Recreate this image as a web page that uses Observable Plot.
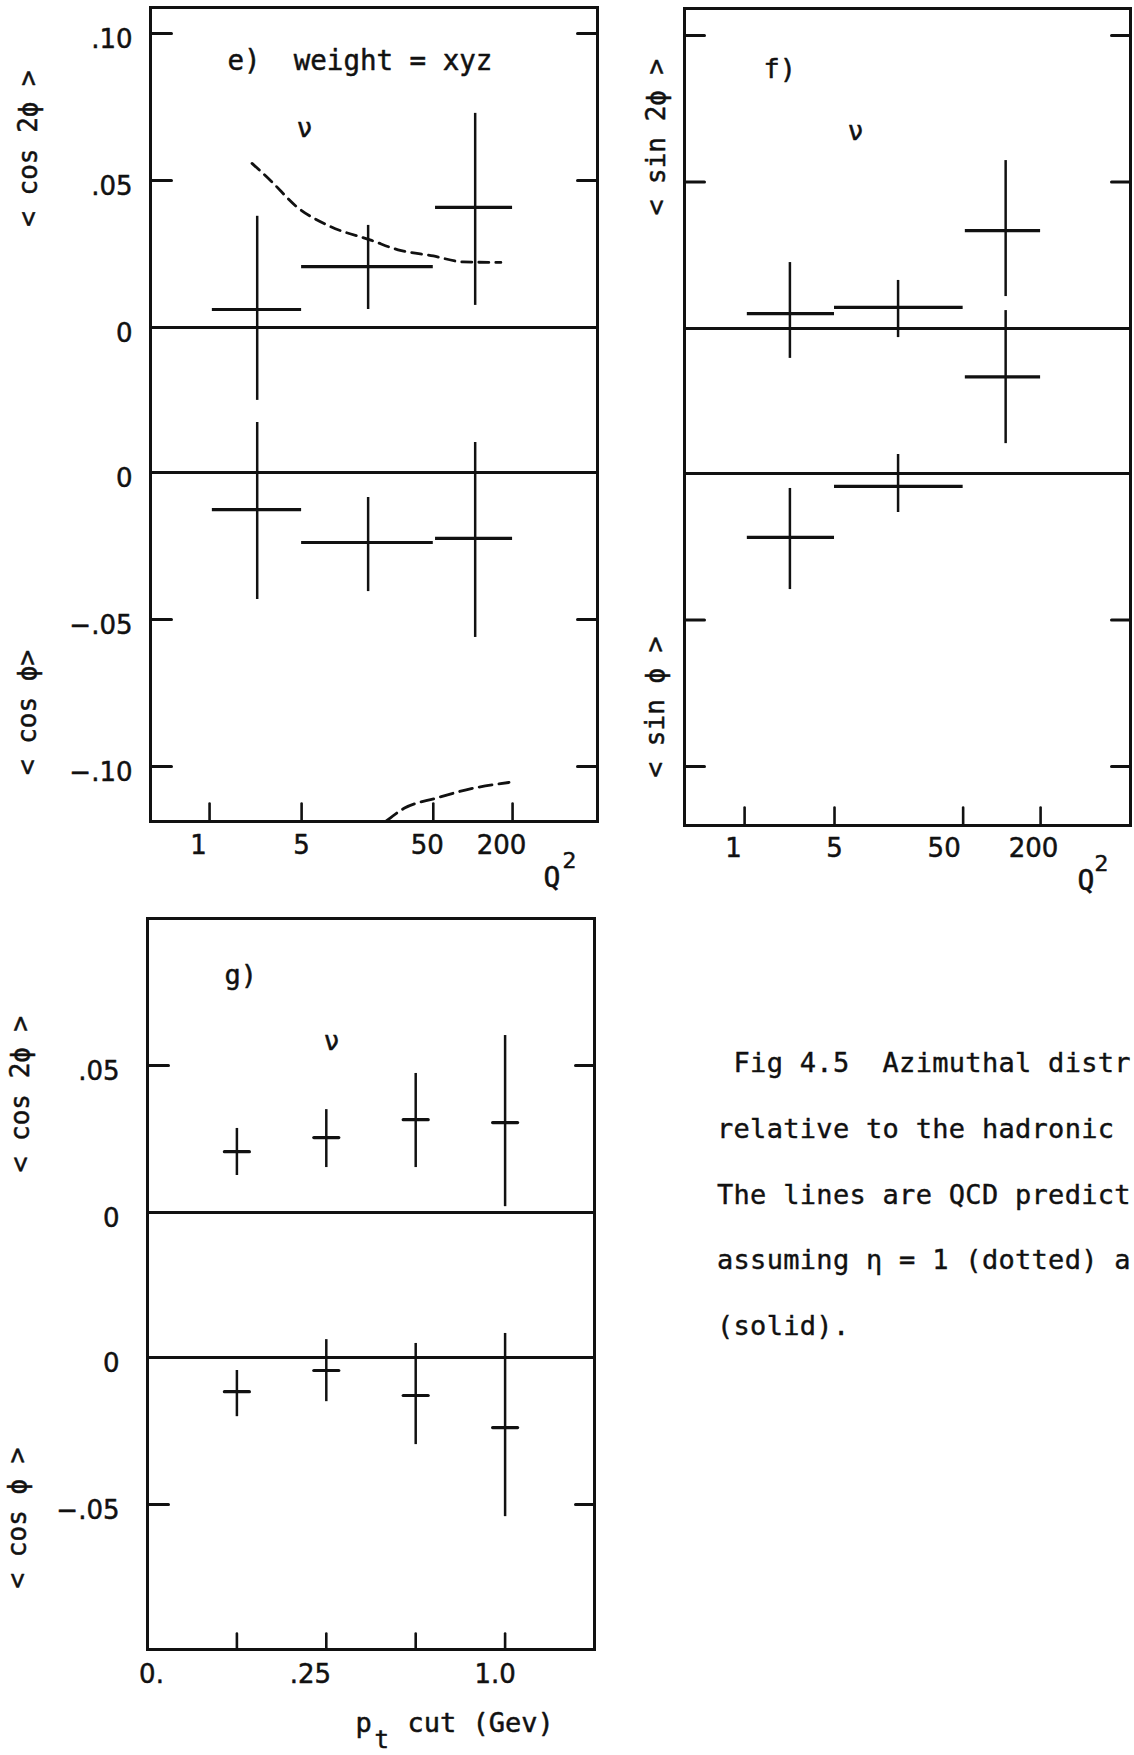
<!DOCTYPE html>
<html><head><meta charset="utf-8">
<script src="https://cdn.jsdelivr.net/npm/d3@7"></script>
<script src="https://cdn.jsdelivr.net/npm/@observablehq/plot@0.6"></script>
<style>
html,body{margin:0;padding:0;background:#fff;}
body{width:1134px;height:1755px;position:relative;overflow:hidden;}
.panel{position:absolute;}
.panel svg{overflow:visible;}
.panel svg text{paint-order:stroke;}
#caption{position:absolute;left:717px;top:1030px;font-family:'DejaVu Sans Mono',monospace;font-size:27px;letter-spacing:0.3px;line-height:65.75px;white-space:pre;color:#111;-webkit-text-stroke:0.4px #111;}
</style></head><body>
<div id="pe" class="panel" style="left:0;top:0"></div>
<div id="pf" class="panel" style="left:615px;top:0"></div>
<div id="pg" class="panel" style="left:0;top:900px"></div>
<div id="caption"></div>
<script>
// ---------- data ----------
// Q^2 bins (panels e, f)
const q2BinLow  = [1.05, 5.0, 52];
const q2BinHigh = [5.0, 50, 200];
const q2TickValues = [1, 5, 50, 200];
const q2TickLabels = ["1", "5", "50", "200"];

// e) <cos 2phi>
const eQ2 = [2.3, 16, 104];
const eCos2Phi   = [0.0061, 0.0207, 0.0408];
const eCos2PhiLo = [-0.0248, 0.0061, 0.0075];
const eCos2PhiHi = [0.0378, 0.0347, 0.0728];
// e) <cos phi>
const eCosPhi   = [-0.0126, -0.0238, -0.0224];
const eCosPhiLo = [-0.0432, -0.0405, -0.0561];
const eCosPhiHi = [0.0170, -0.0085, 0.0102];
// e) QCD predictions (dashed)
const qcdCos2PhiQ2 = [2.1, 2.9, 4.6, 8.2, 17, 27, 50, 84, 163];
const qcdCos2Phi   = [0.0558, 0.0500, 0.0410, 0.0344, 0.0296, 0.0264, 0.0243, 0.0223, 0.0221];
const qcdCosPhiQ2 = [22, 30, 52, 102, 188];
const qcdCosPhi   = [-0.1185, -0.1142, -0.1108, -0.1073, -0.1054];

// f) <sin 2phi>
const fQ2 = [2.25, 15.6, 107];
const fSin2Phi   = [0.0051, 0.0072, 0.0334];
const fSin2PhiLo = [-0.0102, -0.0031, 0.0109];
const fSin2PhiHi = [0.0225, 0.0164, 0.0573];
// f) <sin phi>
const fSinPhi   = [-0.0218, -0.0044, 0.0330];
const fSinPhiLo = [-0.0396, -0.0133, 0.0102];
const fSinPhiHi = [-0.0051, 0.0065, 0.0556];

// g) p_t cut
const ptCutIndex = [1, 2, 3, 4];
const ptTickIndex = [0, 2, 4];
const ptTickLabels = ["0.", ".25", "1.0"];
const gCos2Phi   = [0.0207, 0.0255, 0.0316, 0.0306];
const gCos2PhiLo = [0.0126, 0.0153, 0.0153, 0.0020];
const gCos2PhiHi = [0.0286, 0.0350, 0.0473, 0.0602];
const gCosPhi   = [-0.0116, -0.0044, -0.0129, -0.0238];
const gCosPhiLo = [-0.0201, -0.0150, -0.0296, -0.0541];
const gCosPhiHi = [-0.0044, 0.0061, 0.0048, 0.0082];

const captionLines = [
  " Fig 4.5  Azimuthal distr",
  "relative to the hadronic",
  "The lines are QCD predict",
  "assuming \u03b7 = 1 (dotted) a",
  "(solid)."
];

// ---------- styling ----------
const INK = "#111";
const MONO = "'DejaVu Sans Mono', monospace";
const NUM = "'DejaVu Sans', sans-serif";
const TS = {stroke: INK, strokeWidth: 0.5};
const lineShape = {draw(ctx, l) { ctx.moveTo(0, 0); ctx.lineTo(0, -l); }};

// lower half of each panel is drawn below the upper one, shifted by the gap between zero lines
function rows(xs, v, lo, hi, shift, x1s, x2s) {
  return xs.map((x, i) => ({
    x, y: v[i] - shift, y1: lo[i] - shift, y2: hi[i] - shift,
    x1: x1s ? x1s[i] : null, x2: x2s ? x2s[i] : null
  }));
}
function curve(xs, ys, shift) { return xs.map((x, i) => ({x, y: ys[i] - shift})); }
function txt(t, o) { return Plot.text([t], {text: d => d, fill: INK, ...TS, ...o}); }
function ticksLeftRight(vals, lenL, lenR) {
  return [
    Plot.vector(vals, {y: d => d, frameAnchor: "left", rotate: 90, length: lenL, anchor: "start", shape: lineShape, stroke: INK, strokeWidth: 3}),
    Plot.vector(vals, {y: d => d, frameAnchor: "right", rotate: -90, length: lenR, anchor: "start", shape: lineShape, stroke: INK, strokeWidth: 3})
  ];
}
function ticksBottom(vals, len) {
  return Plot.vector(vals, {x: d => d, frameAnchor: "bottom", rotate: 0, length: len, anchor: "start", shape: lineShape, stroke: INK, strokeWidth: 2.6});
}
function xLabels(vals, labels, nudges, dy) {
  return vals.map((v, i) => Plot.text([v], {x: d => d, text: () => labels[i], frameAnchor: "bottom", dy, dx: nudges[i], lineAnchor: "top", fontFamily: NUM, fontSize: 26, fill: INK, ...TS}));
}
function crossMarks(r) {
  return [
    Plot.ruleX(r, {x: "x", y1: "y1", y2: "y2", stroke: INK, strokeWidth: 2.5}),
    Plot.ruleY(r, {y: "y", x1: "x1", x2: "x2", stroke: INK, strokeWidth: 3.2})
  ];
}

// ---------- panel e ----------
const DE = 145 / 2940;
const eUp = rows(eQ2, eCos2Phi, eCos2PhiLo, eCos2PhiHi, 0, q2BinLow, q2BinHigh);
const eDn = rows(eQ2, eCosPhi, eCosPhiLo, eCosPhiHi, DE, q2BinLow, q2BinHigh);
const eYTicks = [
  {v: 0.10, t: ".10"}, {v: 0.05, t: ".05"}, {v: 0, t: "0"},
  {v: -DE, t: "0"}, {v: -0.05 - DE, t: "\u2212.05"}, {v: -0.10 - DE, t: "\u2212.10"}
];
const pe = Plot.plot({
  width: 615, height: 900, marginTop: 7, marginRight: 18, marginBottom: 79, marginLeft: 150,
  x: {type: "log", domain: [0.356, 883], axis: null},
  y: {domain: [-0.168, 0.1088], axis: null},
  style: {background: "transparent"},
  marks: [
    Plot.ruleY([0, -DE], {stroke: INK, strokeWidth: 3}),
    ...ticksLeftRight([0.10, 0.05, -0.05 - DE, -0.10 - DE], 21, 20),
    ticksBottom(q2TickValues, 18),
    ...crossMarks(eUp), ...crossMarks(eDn),
    Plot.line(curve(qcdCos2PhiQ2, qcdCos2Phi, 0), {x: "x", y: "y", curve: "monotone-x", stroke: INK, strokeWidth: 2.8, strokeDasharray: "10,7", clip: true}),
    Plot.line(curve(qcdCosPhiQ2, qcdCosPhi, DE), {x: "x", y: "y", curve: "monotone-x", stroke: INK, strokeWidth: 2.8, strokeDasharray: "13,7", clip: true}),
    Plot.text(eYTicks, {y: "v", text: "t", frameAnchor: "left", dx: -18, dy: 6, textAnchor: "end", fontFamily: NUM, fontSize: 26, fill: INK, ...TS}),
    ...xLabels(q2TickValues, q2TickLabels, [-11, 0, -6, -11], 14),
    txt("e)\u00a0 weight = xyz", {frameAnchor: "top-left", dx: 77, dy: 54, textAnchor: "start", lineAnchor: "middle", fontFamily: MONO, fontSize: 27.5}),
    txt("\u03bd", {frameAnchor: "top-left", dx: 154, dy: 121, textAnchor: "middle", lineAnchor: "middle", fontFamily: MONO, fontSize: 26}),
    txt("< cos 2\u03d5 >", {frameAnchor: "left", rotate: -90, dx: -122, dy: -266, textAnchor: "middle", lineAnchor: "middle", fontFamily: MONO, fontSize: 26}),
    txt("< cos \u03d5>", {frameAnchor: "left", rotate: -90, dx: -123, dy: 298, textAnchor: "middle", lineAnchor: "middle", fontFamily: MONO, fontSize: 26}),
    txt("Q", {frameAnchor: "top-left", dx: 393, dy: 871, textAnchor: "start", lineAnchor: "middle", fontFamily: MONO, fontSize: 28}),
    txt("2", {frameAnchor: "top-left", dx: 412, dy: 853, textAnchor: "start", lineAnchor: "middle", fontFamily: NUM, fontSize: 22}),
    Plot.frame({stroke: INK, strokeWidth: 3})
  ]
});
document.getElementById("pe").append(pe);

// ---------- panel f ----------
const DF = 145 / 2930;
const fUp = rows(fQ2, fSin2Phi, fSin2PhiLo, fSin2PhiHi, 0, q2BinLow, q2BinHigh);
const fDn = rows(fQ2, fSinPhi, fSinPhiLo, fSinPhiHi, DF, q2BinLow, q2BinHigh);
const pf = Plot.plot({
  width: 519, height: 900, marginTop: 8, marginRight: 4, marginBottom: 75, marginLeft: 69,
  x: {type: "log", domain: [0.341, 1000], axis: null},
  y: {domain: [-0.1696, 0.1092], axis: null},
  style: {background: "transparent"},
  marks: [
    Plot.ruleY([0, -DF], {stroke: INK, strokeWidth: 3}),
    ...ticksLeftRight([0.10, 0.05, -0.05 - DF, -0.10 - DF], 20, 19),
    ticksBottom(q2TickValues, 18),
    ...crossMarks(fUp), ...crossMarks(fDn),
    ...xLabels(q2TickValues, q2TickLabels, [-11, 0, -19, -7], 13),
    txt("f)", {frameAnchor: "top-left", dx: 79, dy: 61, textAnchor: "start", lineAnchor: "middle", fontFamily: MONO, fontSize: 27}),
    txt("\u03bd", {frameAnchor: "top-left", dx: 171, dy: 123, textAnchor: "middle", lineAnchor: "middle", fontFamily: MONO, fontSize: 26}),
    txt("< sin 2\u03d5 >", {frameAnchor: "left", rotate: -90, dx: -28, dy: -280, textAnchor: "middle", lineAnchor: "middle", fontFamily: MONO, fontSize: 26}),
    txt("< sin \u03d5 >", {frameAnchor: "left", rotate: -90, dx: -29, dy: 290, textAnchor: "middle", lineAnchor: "middle", fontFamily: MONO, fontSize: 26}),
    txt("Q", {frameAnchor: "top-left", dx: 393, dy: 873, textAnchor: "start", lineAnchor: "middle", fontFamily: MONO, fontSize: 28}),
    txt("2", {frameAnchor: "top-left", dx: 410, dy: 855, textAnchor: "start", lineAnchor: "middle", fontFamily: NUM, fontSize: 22}),
    Plot.frame({stroke: INK, strokeWidth: 3})
  ]
});
document.getElementById("pf").append(pf);

// ---------- panel g ----------
const DG = 145 / 2940;
const gUp = rows(ptCutIndex, gCos2Phi, gCos2PhiLo, gCos2PhiHi, 0);
const gDn = rows(ptCutIndex, gCosPhi, gCosPhiLo, gCosPhiHi, DG);
const gYTicks = [{v: 0.05, t: ".05"}, {v: 0, t: "0"}, {v: -DG, t: "0"}, {v: -0.05 - DG, t: "\u2212.05"}];
const pg = Plot.plot({
  width: 620, height: 855, marginTop: 18, marginRight: 26, marginBottom: 106, marginLeft: 147,
  x: {domain: [0, 5], axis: null},
  y: {domain: [-0.1486, 0.1], axis: null},
  style: {background: "transparent"},
  marks: [
    Plot.ruleY([0, -DG], {stroke: INK, strokeWidth: 3}),
    ...ticksLeftRight([0.05, -0.05 - DG], 21, 19),
    ticksBottom(ptCutIndex, 16),
    ...[gUp, gDn].flatMap(r => [
      Plot.ruleX(r, {x: "x", y1: "y1", y2: "y2", stroke: INK, strokeWidth: 2.5}),
      Plot.vector(r, {x: "x", y: "y", rotate: 90, length: 25, anchor: "middle", shape: lineShape, stroke: INK, strokeWidth: 3.2})
    ]),
    Plot.text(gYTicks, {y: "v", text: "t", frameAnchor: "left", dx: -28, dy: 6, textAnchor: "end", fontFamily: NUM, fontSize: 26, fill: INK, ...TS}),
    ...xLabels(ptTickIndex, ptTickLabels, [4, -16, -10], 15),
    txt("g)", {frameAnchor: "top-left", dx: 77, dy: 57, textAnchor: "start", lineAnchor: "middle", fontFamily: MONO, fontSize: 27}),
    txt("\u03bd", {frameAnchor: "top-left", dx: 184, dy: 123, textAnchor: "middle", lineAnchor: "middle", fontFamily: MONO, fontSize: 26}),
    txt("< cos 2\u03d5 >", {frameAnchor: "left", rotate: -90, dx: -127, dy: -190, textAnchor: "middle", lineAnchor: "middle", fontFamily: MONO, fontSize: 26}),
    txt("< cos \u03d5 >", {frameAnchor: "left", rotate: -90, dx: -130, dy: 234, textAnchor: "middle", lineAnchor: "middle", fontFamily: MONO, fontSize: 26}),
    txt("p", {frameAnchor: "top-left", dx: 208, dy: 805, textAnchor: "start", lineAnchor: "middle", fontFamily: MONO, fontSize: 27}),
    txt("t", {frameAnchor: "top-left", dx: 227, dy: 822, textAnchor: "start", lineAnchor: "middle", fontFamily: MONO, fontSize: 24}),
    txt("cut (Gev)", {frameAnchor: "top-left", dx: 260, dy: 805, textAnchor: "start", lineAnchor: "middle", fontFamily: MONO, fontSize: 27}),
    Plot.frame({stroke: INK, strokeWidth: 3})
  ]
});
document.getElementById("pg").append(pg);

document.getElementById("caption").textContent = captionLines.join("\n");
</script>
</body></html>
